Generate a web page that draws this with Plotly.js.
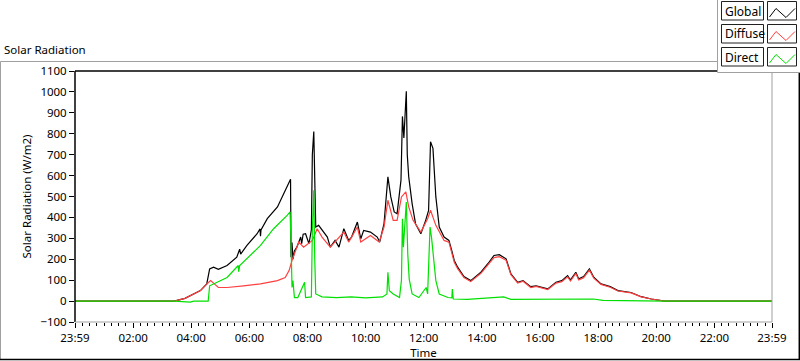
<!DOCTYPE html>
<html>
<head>
<meta charset="utf-8">
<script src="https://cdn.plot.ly/plotly-3.0.1.min.js"></script>
<style>
html,body{margin:0;padding:0;background:#fff;}
#chart{width:800px;height:361px;}
</style>
</head>
<body>
<div id="chart"></div>
<script>
// ---- data ----
const globalTimes = ["00:00","03:25","03:47","03:58","04:19","04:32","04:38","04:46","04:56","05:14","05:34","05:40","05:42","05:55","06:16","06:22","06:23","06:24","06:37","06:58","07:14","07:22","07:25","07:26","07:28","07:30","07:33","07:38","07:46","07:48","07:51","07:56","08:03","08:08","08:10","08:13","08:15","08:17","08:23","08:30","08:41","08:47","08:57","09:05","09:15","09:25","09:31","09:43","09:50","09:56","10:10","10:24","10:29","10:38","10:46","10:52","10:59","11:05","11:13","11:16","11:19","11:24","11:26","11:29","11:36","11:43","11:54","12:04","12:10","12:14","12:19","12:25","12:32","12:42","12:52","12:58","13:03","13:10","13:23","13:37","13:58","14:15","14:25","14:36","14:50","15:00","15:14","15:25","15:41","15:52","16:16","16:33","16:45","16:57","17:03","17:14","17:20","17:30","17:42","17:51","18:06","18:25","18:41","19:08","19:29","19:50","20:10","20:17","23:59"];
const globalValues = [0,0,13,25,50,82,154,162,152,170,210,248,225,266,322,345,310,340,394,450,530,570,582,210,280,200,240,258,306,274,320,322,274,340,700,811,600,354,362,338,306,258,290,258,346,290,306,378,298,338,330,306,282,370,594,498,426,418,578,883,780,1003,700,594,466,370,322,386,434,762,730,498,354,306,290,240,194,162,117,98,138,186,218,222,202,130,90,98,69,73,58,90,98,122,101,138,106,117,154,114,82,69,50,41,21,10,5,0,0];

const diffuseTimes = ["00:00","03:25","03:47","03:58","04:19","04:32","04:40","04:56","05:14","05:48","06:23","06:58","07:14","07:22","07:28","07:42","07:52","08:10","08:20","08:30","08:47","09:15","09:25","09:43","09:50","10:10","10:28","10:38","10:46","10:57","11:05","11:14","11:23","11:29","11:38","11:54","12:08","12:14","12:25","12:42","12:52","13:03","13:10","13:23","13:37","13:58","14:15","14:25","14:36","14:50","15:00","15:14","15:25","15:41","15:52","16:16","16:33","16:45","16:57","17:03","17:14","17:20","17:30","17:42","17:51","18:06","18:25","18:41","19:08","19:29","19:50","20:10","20:17","23:59"];
const diffuseValues = [0,0,13,25,50,82,98,65,65,73,82,98,113,146,194,282,258,290,346,306,258,330,282,354,282,314,282,354,482,386,386,498,522,450,386,330,394,434,362,290,282,186,155,112,93,133,180,208,212,195,126,86,95,65,70,55,86,93,116,96,132,101,112,148,110,80,66,48,39,20,10,5,0,0];

const directTimes = ["00:00","03:25","03:58","04:05","04:35","04:38","05:14","05:37","05:38","05:40","06:23","06:50","07:18","07:24","07:26","07:27","07:28","07:30","07:33","07:40","07:54","07:56","08:08","08:10","08:13","08:15","08:17","08:30","09:00","09:30","10:00","10:35","10:44","10:46","10:49","10:57","11:10","11:14","11:16","11:18","11:24","11:27","11:30","11:36","11:50","12:05","12:08","12:13","12:16","12:25","12:32","12:50","12:58","12:59","13:01","13:30","14:15","14:45","15:00","16:00","17:00","17:50","18:10","19:00","20:17","23:59"];
const directValues = [0,0,-5,0,0,73,113,170,140,170,266,346,410,426,290,200,65,98,17,17,90,17,20,338,530,200,34,20,17,20,15,20,34,138,50,34,17,100,394,258,474,226,105,34,17,65,34,354,306,98,34,17,15,58,10,8,14,20,8,8,10,10,3,2,0,0];

const seriesNames = ["Global","Diffuse","Direct"];
const seriesColors = ["#000000","#ff4040","#00e000"];

const tickTimes = ["00:00","02:00","04:00","06:00","08:00","10:00","12:00","14:00","16:00","18:00","20:00","22:00","23:59"];
const tickLabels = ["23:59","02:00","04:00","06:00","08:00","10:00","12:00","14:00","16:00","18:00","20:00","22:00","23:59"];

// ---- helpers ----
const day = "2000-01-01 ";
const toDate = arr => arr.map(t => day + t);

const W = 800, H = 361;
const M = {l:75, r:28, t:71, b:39};
const PW = W - M.l - M.r, PH = H - M.t - M.b;
const px = x => (x - M.l) / PW;          // pixel x -> paper
const py = y => (H - M.b - y) / PH;      // pixel y -> paper

const FONT = "Noto Sans, Open Sans, sans-serif";
const FS = 11.5;

const traces = [
  {x: toDate(globalTimes), y: globalValues},
  {x: toDate(diffuseTimes), y: diffuseValues},
  {x: toDate(directTimes), y: directValues}
].map((d, i) => ({
  type: "scatter", mode: "lines", name: seriesNames[i],
  x: d.x, y: d.y, line: {color: seriesColors[i], width: 1.2},
  hoverinfo: "skip"
}));

const shapes = [];
const annotations = [];

// outer control frame
shapes.push({type:"line", xref:"paper", yref:"paper", x0:px(0.5), x1:px(718), y0:py(61.5), y1:py(61.5), line:{color:"#a0a0a0", width:1}});
shapes.push({type:"line", xref:"paper", yref:"paper", x0:px(0.5), x1:px(0.5), y0:py(61.5), y1:py(360), line:{color:"#a0a0a0", width:1}});
shapes.push({type:"line", xref:"paper", yref:"paper", x0:px(0), x1:px(800), y0:py(359.5), y1:py(359.5), line:{color:"#000000", width:1.5}});
shapes.push({type:"line", xref:"paper", yref:"paper", x0:px(799.3), x1:px(799.3), y0:py(72), y1:py(360), line:{color:"#000000", width:1.5}});

// plot area frame (sunken look)
shapes.push({type:"line", xref:"paper", yref:"paper", x0:0, x1:1, y0:1, y1:1, line:{color:"#000000", width:1.5}});
shapes.push({type:"line", xref:"paper", yref:"paper", x0:0, x1:0, y0:0, y1:1, line:{color:"#000000", width:1.5}});
shapes.push({type:"line", xref:"paper", yref:"paper", x0:1, x1:1, y0:0, y1:1, line:{color:"#a0a0a0", width:1}});
shapes.push({type:"line", xref:"paper", yref:"paper", x0:0, x1:1, y0:0, y1:0, line:{color:"#a0a0a0", width:1}});

// legend box
shapes.push({type:"rect", xref:"paper", yref:"paper", x0:px(717.5), x1:px(801), y0:py(-1), y1:py(72.5), fillcolor:"#ffffff", line:{color:"#a0a0a0", width:1}});
const rowTop = [1, 24, 47];
seriesNames.forEach((name, i) => {
  const t = rowTop[i], b = t + 19;
  shapes.push({type:"rect", xref:"paper", yref:"paper", x0:px(721.5), x1:px(763.5), y0:py(b), y1:py(t+0.5), fillcolor:"#ffffff", line:{color:"#202020", width:1}});
  shapes.push({type:"rect", xref:"paper", yref:"paper", x0:px(767.5), x1:px(796.5), y0:py(b), y1:py(t+0.5), fillcolor:"#ffffff", line:{color:"#202020", width:1}});
  const zig = [[769.5, t+16], [776, t+7.5], [786, t+16.5], [795, t+7.5]];
  const path = zig.map((p, k) => (k ? "L" : "M") + px(p[0]) + "," + py(p[1])).join(" ");
  shapes.push({type:"path", xref:"paper", yref:"paper", path: path, line:{color:seriesColors[i], width:1}});
  annotations.push({xref:"paper", yref:"paper", x:px(723), y:py(t+10), xanchor:"left", yanchor:"middle", text:name, showarrow:false, font:{family:FONT, size:12, color:"#000"}});
});

const layout = {
  width: W, height: H,
  margin: M,
  paper_bgcolor: "#ffffff", plot_bgcolor: "#ffffff",
  showlegend: false,
  font: {family: FONT, size: FS, color: "#000"},
  title: {text: "Solar Radiation", x: 4/W, xanchor: "left", xref: "container", y: 1 - 50/H, yanchor: "middle", yref: "container", font: {family: FONT, size: FS, color: "#000"}},
  xaxis: {
    type: "date", range: [day + "00:00", day + "23:59"],
    tickmode: "array", tickvals: toDate(tickTimes), ticktext: tickLabels,
    ticks: "outside", ticklen: 5, tickcolor: "#000", tickwidth: 1,
    minor: {ticks: "outside", ticklen: 3, tickcolor: "#000", dtick: 900000, tick0: day + "00:00", showgrid: false},
    showgrid: false, zeroline: false, showline: false,
    tickfont: {family: FONT, size: FS, color: "#000"},
    title: {text: "Time", font: {family: FONT, size: FS, color: "#000"}, standoff: 5}
  },
  yaxis: {
    range: [-100, 1100], dtick: 100, tick0: 0,
    ticks: "outside", ticklen: 5, tickcolor: "#000", tickwidth: 1,
    showgrid: false, zeroline: false, showline: false,
    tickfont: {family: FONT, size: FS, color: "#000"},
    title: {text: "Solar Radiation (W/m2)", font: {family: FONT, size: FS, color: "#000"}, standoff: 6}
  },
  shapes: shapes,
  annotations: annotations
};

Plotly.newPlot("chart", traces, layout, {staticPlot: true, displayModeBar: false});
</script>
</body>
</html>
